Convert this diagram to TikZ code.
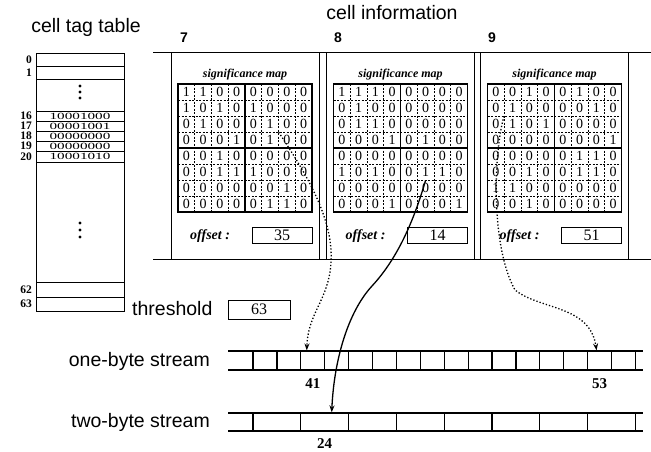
\documentclass[tikz,border=0pt]{standalone}
\usepackage{fontspec}
\setmainfont{Liberation Serif}
\newfontfamily\headfont{Liberation Sans}
\newfontfamily\tagfont{Liberation Serif}[FakeStretch=1.6]
\usetikzlibrary{arrows.meta,positioning,calc}

\tikzset{
    % Heading text style
    headtext/.style={
        font=\headfont\fontsize{19.5}{22}\selectfont,
        inner sep=0pt
    },
    % Index labels beside the tag table
    idxlabel/.style={
        font=\bfseries\fontsize{11.5}{11.5}\selectfont,
        inner sep=0pt,
        anchor=east
    },
    % Tag table entry
    tagentry/.style={
        font=\tagfont\fontsize{9.5}{9.5}\selectfont,
        inner sep=0pt
    },
    % Cell panel style
    panelbox/.style={
        draw,
        line width=1pt,
        minimum width=148pt,
        minimum height=207pt,
        inner sep=0pt
    },
    % Panel number style
    panelnum/.style={
        font=\headfont\bfseries\fontsize{14}{14}\selectfont,
        inner sep=0pt
    },
    % Map caption style
    mapcaption/.style={
        font=\bfseries\itshape\fontsize{12}{12}\selectfont,
        inner sep=0pt
    },
    % Map bit style
    mapbit/.style={
        minimum width=16.75pt,
        minimum height=16pt,
        inner sep=0pt,
        font=\fontsize{14}{14}\selectfont
    },
    % Grid line styles
    innerline/.style={line width=0.6pt, dash pattern=on 2pt off 1.5pt},
    halfline/.style={line width=1.4pt},
    % Value box style
    valuebox/.style={
        draw,
        line width=1pt,
        minimum width=60pt,
        minimum height=16pt,
        inner sep=0pt,
        font=\fontsize{16}{16}\selectfont
    },
    % Stream cell styles
    onecell/.style={draw, line width=1.2pt, minimum width=23.9pt, minimum height=19pt, inner sep=0pt},
    twocell/.style={draw, line width=1.2pt, minimum width=47.8pt, minimum height=18pt, inner sep=0pt},
    % Position label under a stream
    poslabel/.style={font=\bfseries\fontsize{15}{15}\selectfont, inner sep=0pt},
    % Arrow styles
    solidarrow/.style={-{Stealth[length=7pt,width=5pt]}, line width=1.3pt},
    dotarrow/.style={-{Stealth[length=7pt,width=5pt]}, line width=1.3pt, dotted}
}

\begin{document}
\begin{tikzpicture}[x=1pt,y=-1pt]
\useasboundingbox (0,0) rectangle (651,451);

% cell tag table
\node[headtext] (tagtitle) at (86,27) {cell tag table};
\node[draw, line width=1pt, minimum width=88pt, minimum height=258pt, inner sep=0pt] (tagtable) at (80,182) {};
\foreach \y in {66,79,111,121,131,141,151,162,282,297}
    \draw[line width=0.8pt] (36,\y) -- (124,\y);
\foreach \n/\y in {0/59.5, 1/72.5, 62/289.5, 63/304}
    \node[idxlabel] (idx\n) at (32,\y) {\n};
\foreach \n/\y/\bits in {16/116/10001000, 17/126/00001001, 18/136/00000000, 19/146/00000000, 20/156.5/10001010} {
    \node[idxlabel] (idx\n) at (32,\y) {\n};
    \node[tagentry] (tag\n) at (80,\y) {\bits};
}
\foreach \y in {86,92,98,223,230,237}
    \fill (80,\y) circle (1.6);

% cell information
\node[headtext] (celltitle) at (392,13) {cell information};
\draw[line width=1pt] (153,52) -- (651,52);
\draw[line width=1pt] (153,259) -- (651,259);
\foreach \p/\cx/\off/\lx in {7/245/35/184, 8/400.5/14/338, 9/554.5/51/492} {
    \node[panelbox] (panel\p) at (\cx,155.5) {};
    \node[panelnum] (num\p) at (\lx,38) {\p};
    \node[mapcaption] (cap\p) at (\cx,75) {significance map};
    \node[valuebox] (off\p) at (\cx+37,235) {\off};
    \node[mapcaption, anchor=west, font=\bfseries\itshape\fontsize{14}{14}\selectfont] (offlbl\p) at (\cx-55,236) {offset :};
}
\foreach \gl in {178,333.5,487.5} {
    \foreach \i in {1,2,3,5,6,7} {
        \draw[innerline] (\gl+\i*16.75,84) -- (\gl+\i*16.75,212);
        \draw[innerline] (\gl,84+\i*16) -- (\gl+134,84+\i*16);
    }
    \draw[halfline] (\gl+67,84) -- (\gl+67,212);
    \draw[halfline] (\gl,148) -- (\gl+134,148);
    \draw[line width=1.2pt] (\gl,84) rectangle (\gl+134,212);
}

% significance maps
\foreach \row [count=\r] in {{1,1,0,0,0,0,0,0},{1,0,1,0,1,0,0,0},{0,1,0,0,0,1,0,0},{0,0,0,1,0,1,0,0},
                             {0,0,1,0,0,0,0,0},{0,0,1,1,1,0,0,0},{0,0,0,0,0,0,1,0},{0,0,0,0,0,1,1,0}}
    \foreach \b [count=\c] in \row
        \node[mapbit] (m7-\r-\c) at (178+\c*16.75-8.375, 76+\r*16) {\b};
\foreach \row [count=\r] in {{1,1,1,0,0,0,0,0},{0,1,0,0,0,0,0,0},{0,1,1,0,0,0,0,0},{0,0,0,1,0,1,0,0},
                             {0,0,0,0,0,0,0,0},{1,0,1,0,0,1,1,0},{0,0,0,0,0,0,0,0},{0,0,0,1,0,0,0,1}}
    \foreach \b [count=\c] in \row
        \node[mapbit] (m8-\r-\c) at (333.5+\c*16.75-8.375, 76+\r*16) {\b};
\foreach \row [count=\r] in {{0,0,1,0,0,1,0,0},{0,1,0,0,0,0,1,0},{0,1,0,1,0,0,0,0},{0,0,0,0,0,0,0,1},
                             {0,0,0,0,0,1,1,0},{0,0,1,0,0,1,1,0},{1,1,0,0,0,0,0,0},{0,0,1,0,0,0,0,0}}
    \foreach \b [count=\c] in \row
        \node[mapbit] (m9-\r-\c) at (487.5+\c*16.75-8.375, 76+\r*16) {\b};

% threshold
\node[headtext, anchor=west] (thrlbl) at (132,309) {threshold};
\node[valuebox, minimum width=62pt, minimum height=19pt] (thrbox) at (259,309.5) {63};

% streams
\node[headtext, anchor=east] (onelbl) at (210,361) {one-byte stream};
\node[headtext, anchor=east] (twolbl) at (210,422) {two-byte stream};
\draw[line width=1.2pt] (228,351) -- (643,351) (228,370) -- (643,370);
\foreach \k in {1,...,16}
    \node[onecell] (ob\k) at (253+\k*23.9-11.95,360.5) {};
\draw[line width=1.2pt] (228,413) -- (643,413) (228,431) -- (643,431);
\foreach \k in {1,...,8}
    \node[twocell] (tb\k) at (253+\k*47.8-23.9,422) {};
\node[poslabel, below=8pt of ob3] (pos41) {41};
\node[poslabel, below=8pt of ob15] (pos53) {53};
\node[poslabel, below=7pt of tb2] (pos24) {24};

% arrows
\draw[dotarrow] (m7-3-6.south east) .. controls (300,165) and (334,215) .. (331,262)
    .. controls (329,300) and (308,312) .. ([xshift=-6pt]ob3.north);
\draw[solidarrow] (m8-6-6.south) .. controls (414,220) and (398,258) .. (372,286)
    .. controls (348,312) and (334,360) .. ([xshift=7pt]tb2.north);
\draw[dotarrow] (m9-2-2.south west) .. controls (494,150) and (490,245) .. (515,290)
    .. controls (540,310) and (590,305) .. ([xshift=-3pt]ob15.north);
\end{tikzpicture}
\end{document}
